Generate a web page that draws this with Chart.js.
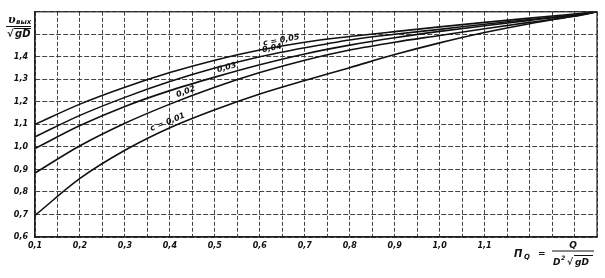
<!DOCTYPE html>
<html>
<head>
<meta charset="utf-8">
<script src="https://cdn.jsdelivr.net/npm/chart.js@4.4.1/dist/chart.umd.min.js"></script>
<style>
html, body { margin: 0; padding: 0; background: #fff; }
</style>
</head>
<body>
<canvas id="chart" width="605" height="278"></canvas>
<script>
// П_Q values (x) and v_вых/√gD for each c (y)
const pq  = [0.1, 0.2, 0.3, 0.4, 0.5, 0.6, 0.7, 0.8, 0.9, 1.0, 1.1, 1.2, 1.3, 1.35];
const c01 = [0.696, 0.86, 0.985, 1.085, 1.165, 1.235, 1.295, 1.352, 1.41, 1.462, 1.508, 1.547, 1.582, 1.6];
const c02 = [0.884, 1.005, 1.105, 1.19, 1.265, 1.33, 1.385, 1.43, 1.465, 1.495, 1.525, 1.553, 1.58, 1.6];
const c03 = [0.993, 1.095, 1.18, 1.25, 1.31, 1.365, 1.413, 1.452, 1.485, 1.513, 1.538, 1.562, 1.585, 1.6];
const c04 = [1.045, 1.14, 1.22, 1.29, 1.35, 1.40, 1.44, 1.475, 1.50, 1.522, 1.545, 1.566, 1.587, 1.6];
const c05 = [1.10, 1.19, 1.265, 1.33, 1.385, 1.43, 1.465, 1.49, 1.512, 1.533, 1.553, 1.572, 1.59, 1.6];

const curveNames = ['c = 0,01', '0,02', '0,03', '0,04', 'c = 0,05'];
const labelAt = [0.40, 0.44, 0.53, 0.63, 0.65];

const xLabelMax = 1.1;
const yLabelMax = 1.4;

const series = [c01, c02, c03, c04, c05];

function comma(v) {
    return v.toFixed(1).replace('.', ',');
}

function isTenth(v) {
    return Math.abs(v * 10 - Math.round(v * 10)) < 1e-6;
}

function valueAt(data, x) {
    for (let i = 1; i < data.length; i++) {
        if (data[i].x >= x) {
            const a = data[i - 1], b = data[i];
            return a.y + (b.y - a.y) * (x - a.x) / (b.x - a.x);
        }
    }
    return data[data.length - 1].y;
}

const extras = {
    id: 'extras',
    afterDatasetsDraw(chart) {
        const ctx = chart.ctx;
        const xs = chart.scales.x, ys = chart.scales.y;
        const area = chart.chartArea;
        ctx.save();

        // frame
        ctx.strokeStyle = '#222';
        ctx.lineWidth = 1.2;
        ctx.strokeRect(area.left, area.top, area.right - area.left, area.bottom - area.top);

        // curve labels
        ctx.fillStyle = '#111';
        ctx.font = 'italic bold 8px "DejaVu Sans"';
        ctx.textAlign = 'center';
        ctx.textBaseline = 'bottom';
        chart.data.datasets.forEach((ds, i) => {
            const x = labelAt[i];
            const px = xs.getPixelForValue(x);
            const py = ys.getPixelForValue(valueAt(ds.data, x));
            const px2 = xs.getPixelForValue(x + 0.02);
            const py2 = ys.getPixelForValue(valueAt(ds.data, x + 0.02));
            ctx.save();
            ctx.translate(px, py);
            ctx.rotate(Math.atan2(py2 - py, px2 - px));
            ctx.fillText(curveNames[i], 0, -2);
            ctx.restore();
        });

        // y axis title: v_вых / √gD
        ctx.textAlign = 'left';
        ctx.textBaseline = 'alphabetic';
        ctx.lineWidth = 1;
        ctx.strokeStyle = '#111';
        ctx.font = 'italic bold 11px "DejaVu Serif"';
        ctx.fillText('υ', 8, 23);
        ctx.font = 'italic bold 7px "DejaVu Sans"';
        ctx.fillText('вых', 16, 24);
        ctx.beginPath();
        ctx.moveTo(6, 26.5); ctx.lineTo(31, 26.5);
        ctx.stroke();
        ctx.font = 'italic bold 10px "DejaVu Sans"';
        ctx.fillText('√', 7, 37);
        ctx.fillText('gD', 15, 37);
        ctx.beginPath();
        ctx.moveTo(14, 28.5); ctx.lineTo(31, 28.5);
        ctx.stroke();

        // x axis title: П_Q = Q / (D² √gD)
        ctx.font = 'italic bold 10px "DejaVu Sans"';
        ctx.fillText('П', 514, 257);
        ctx.font = 'italic bold 7px "DejaVu Sans"';
        ctx.fillText('Q', 524, 259);
        ctx.font = 'bold 9px "DejaVu Sans"';
        ctx.fillText('=', 538, 256);
        ctx.font = 'italic bold 9px "DejaVu Sans"';
        ctx.textAlign = 'center';
        ctx.fillText('Q', 573, 248);
        ctx.beginPath();
        ctx.moveTo(552, 251); ctx.lineTo(594, 251);
        ctx.stroke();
        ctx.textAlign = 'left';
        ctx.fillText('D', 553, 265);
        ctx.font = 'italic bold 6px "DejaVu Sans"';
        ctx.fillText('2', 561, 260);
        ctx.font = 'italic bold 9px "DejaVu Sans"';
        ctx.fillText('√', 567, 265);
        ctx.fillText('gD', 575, 265);
        ctx.beginPath();
        ctx.moveTo(574, 255.5); ctx.lineTo(593, 255.5);
        ctx.stroke();

        ctx.restore();
    }
};

const ctx = document.getElementById('chart').getContext('2d');

new Chart(ctx, {
    type: 'line',
    data: {
        datasets: series.map((s, i) => ({
            label: curveNames[i],
            data: pq.map((x, j) => ({ x: x, y: s[j] })),
            borderColor: '#111',
            borderWidth: 1.6,
            pointRadius: 0,
            fill: false,
            cubicInterpolationMode: 'monotone'
        }))
    },
    options: {
        responsive: false,
        animation: false,
        layout: { padding: { top: 8, right: 8, left: 0, bottom: 0 } },
        plugins: {
            legend: { display: false },
            tooltip: { enabled: false }
        },
        scales: {
            x: {
                type: 'linear',
                min: 0.1,
                max: 1.35,
                afterFit: scale => { scale.height = 41; },
                grid: { color: '#444', lineWidth: 1, drawTicks: false },
                border: { color: '#222', width: 1.2, dash: [4, 2] },
                ticks: {
                    stepSize: 0.05,
                    autoSkip: false,
                    maxRotation: 0,
                    padding: 4,
                    color: '#111',
                    font: { family: 'DejaVu Sans', size: 8, style: 'italic', weight: 'bold' },
                    callback: v => (isTenth(v) && v <= xLabelMax + 1e-6) ? comma(v) : ''
                }
            },
            y: {
                min: 0.6,
                max: 1.6,
                afterFit: scale => { scale.width = 35; },
                grid: { color: '#444', lineWidth: 1, drawTicks: false },
                border: { color: '#222', width: 1.2, dash: [5, 2] },
                ticks: {
                    stepSize: 0.1,
                    autoSkip: false,
                    padding: 7,
                    color: '#111',
                    font: { family: 'DejaVu Sans', size: 8, style: 'italic', weight: 'bold' },
                    callback: v => v <= yLabelMax + 1e-6 ? comma(v) : ''
                }
            }
        }
    },
    plugins: [extras]
});
</script>
</body>
</html>
